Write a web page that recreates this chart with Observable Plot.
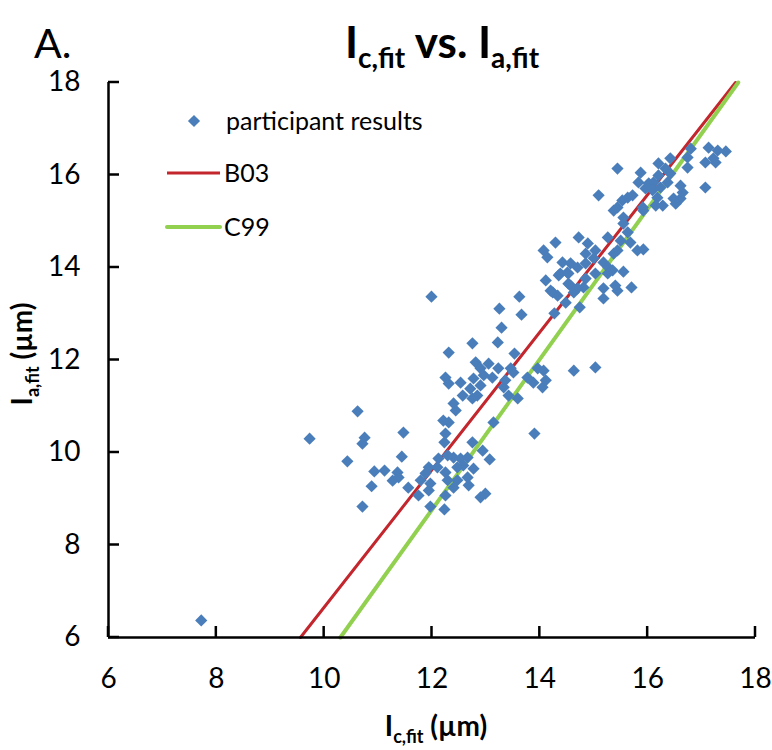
<!DOCTYPE html>
<html>
<head>
<meta charset="utf-8">
<script src="https://cdn.jsdelivr.net/npm/d3@7"></script>
<script src="https://cdn.jsdelivr.net/npm/@observablehq/plot@0.6"></script>
<style>
  html, body { margin: 0; padding: 0; background: #fff; }
  #chart { width: 772px; height: 750px; }
</style>
</head>
<body>
<div id="chart"></div>
<script>
// ---- Data ----
const icFit = [
  7.72, 9.73, 10.62, 10.75, 10.71, 11.47, 10.43, 11.44, 10.93, 11.12, 11.36, 11.38, 11.27, 10.88, 10.71, 11.56,
  12.40, 12.44, 12.21, 12.31, 12.25, 12.23, 12.75, 12.94, 13.07, 13.14, 12.12, 12.29, 12.40, 12.53, 12.66,
  11.94, 11.88, 11.79, 12.10, 12.25, 12.47, 12.58, 12.77, 12.66, 12.47, 12.29, 11.97, 11.94, 11.75, 12.40,
  12.68, 12.25, 11.97, 12.23, 12.90, 12.99,
  11.99, 13.62, 13.25, 13.66, 13.29, 12.75, 13.22, 12.31, 13.53, 12.81, 13.05, 13.23, 12.90, 12.96, 13.12,
  12.77, 12.53, 12.25, 12.31, 12.71, 12.90, 12.84, 12.75, 12.57, 13.36, 13.46, 13.51, 13.33, 13.42, 13.59,
  13.77, 13.96, 14.07, 13.88, 14.11, 14.05, 14.63, 15.03, 13.90,
  14.11, 14.35, 14.53, 14.24, 14.33, 14.57, 14.63, 14.48, 14.27, 14.29, 14.07, 14.14, 14.72, 14.89, 15.26,
  15.55, 15.63, 15.50, 15.68, 15.81, 15.92, 15.44, 15.37, 15.03, 14.85, 14.42, 14.57, 14.70, 14.85, 15.00,
  15.18, 15.27, 15.26, 15.35, 15.03, 14.85, 14.51, 14.38, 14.53, 14.70, 14.81, 14.20, 15.55, 15.40, 15.44,
  15.70, 15.18, 15.18, 14.74,
  17.13, 17.30, 17.45, 17.22, 17.07, 17.26, 17.07, 16.80, 16.74, 16.74, 16.61, 16.65, 16.61, 16.48, 16.52,
  16.42, 16.20, 16.33, 16.42, 16.37, 16.20, 16.11, 16.02, 15.87, 15.83, 15.96, 16.09, 16.24, 16.18, 16.28,
  16.15, 15.44, 15.09, 15.53, 15.63, 15.72, 15.44, 15.37, 15.91, 15.92, 15.55
];
const iaFit = [
  6.37, 10.30, 10.89, 10.32, 10.19, 10.43, 9.81, 9.91, 9.59, 9.61, 9.57, 9.46, 9.39, 9.27, 8.83, 9.24,
  11.06, 10.91, 10.69, 10.65, 10.41, 10.22, 10.22, 10.04, 9.85, 10.65, 9.87, 9.94, 9.89, 9.87, 9.89,
  9.68, 9.55, 9.40, 9.68, 9.57, 9.68, 9.72, 9.65, 9.46, 9.40, 9.40, 9.33, 9.18, 9.07, 9.24,
  9.29, 9.07, 8.83, 8.77, 9.03, 9.11,
  13.37, 13.37, 13.11, 12.98, 12.70, 12.36, 12.38, 12.16, 12.14, 11.95, 11.92, 11.82, 11.82, 11.67, 11.62,
  11.60, 11.51, 11.62, 11.49, 11.38, 11.45, 11.23, 11.17, 11.23, 11.56, 11.82, 11.73, 11.41, 11.23, 11.17,
  11.62, 11.82, 11.77, 11.51, 11.56, 11.41, 11.77, 11.84, 10.41,
  13.72, 13.83, 13.87, 13.46, 13.39, 13.61, 13.46, 13.24, 13.01, 14.54, 14.37, 14.22, 14.65, 14.52, 14.65,
  14.95, 14.76, 14.58, 14.54, 14.37, 14.39, 14.37, 14.30, 14.37, 14.30, 14.11, 14.09, 14.00, 14.09, 14.20,
  14.11, 14.00, 13.87, 13.94, 13.87, 13.76, 13.89, 13.87, 13.65, 13.55, 13.57, 13.50, 13.91, 13.61, 13.50,
  13.57, 13.55, 13.33, 13.14,
  16.59, 16.53, 16.51, 16.36, 16.27, 16.27, 15.73, 16.57, 16.38, 16.16, 15.77, 15.62, 15.49, 15.49, 15.38,
  16.36, 16.25, 16.14, 16.03, 15.84, 15.99, 15.84, 15.82, 16.05, 15.84, 15.71, 15.67, 15.73, 15.51, 15.34,
  15.34, 16.14, 15.56, 15.45, 15.51, 15.56, 15.30, 15.23, 15.30, 15.23, 15.08
];
// Relation lines (end points read where they meet the frame)
const b03X = [9.56, 17.63];
const b03Y = [6, 18];
const c99X = [10.30, 17.68];
const c99Y = [6, 18];
const xTicks = [6, 8, 10, 12, 14, 16, 18];
const yTicks = [6, 8, 10, 12, 14, 16, 18];
const seriesNames = ["participant results", "B03", "C99"];

// ---- Build tables ----
const points = icFit.map((x, i) => ({x, y: iaFit[i]}));
const b03 = b03X.map((x, i) => ({x, y: b03Y[i]}));
const c99 = c99X.map((x, i) => ({x, y: c99Y[i]}));

const BLUE = "#4a7ebb", RED = "#c3262d", GREEN = "#92d050";
const FONT = "Lato, 'Open Sans', sans-serif";
const TICK = 11; // inward tick length in px

const chart = Plot.plot({
  width: 772,
  height: 750,
  marginLeft: 108,
  marginRight: 17,
  marginTop: 82,
  marginBottom: 113,
  style: {fontFamily: FONT, background: "#fff", color: "#000", overflow: "visible"},
  x: {domain: [6, 18]},
  y: {domain: [6, 18]},
  marks: [
    Plot.line(b03, {x: "x", y: "y", stroke: RED, strokeWidth: 3}),
    Plot.line(c99, {x: "x", y: "y", stroke: GREEN, strokeWidth: 4}),
    Plot.dot(points, {x: "x", y: "y", symbol: "diamond2", r: 5.5, fill: BLUE, stroke: null}),
    Plot.ruleX([6], {stroke: "#000", strokeWidth: 2.5}),
    Plot.ruleY([6], {stroke: "#000", strokeWidth: 2.5}),
    Plot.axisX(xTicks, {tickSize: 0, tickPadding: 31, fontSize: 28, label: null, fill: "#000"}),
    Plot.axisY(yTicks, {tickSize: 0, tickPadding: 28, fontSize: 28, label: null, fill: "#000"})
  ]
});
document.getElementById("chart").appendChild(chart);

// ---- Inward tick marks, placed with the plot's own scales ----
const sx = chart.scale("x"), sy = chart.scale("y");
const svg = d3.select(chart);
const y0 = sy.apply(yTicks[0]), x0 = sx.apply(xTicks[0]);
let dPath = "";
xTicks.forEach(v => { const px = sx.apply(v); dPath += `M${px},${y0}V${y0 - TICK}`; });
yTicks.forEach(v => { const py = sy.apply(v); dPath += `M${x0},${py}H${x0 + TICK}`; });
svg.append("path").attr("d", dPath).attr("fill", "none")
  .attr("stroke", "#000").attr("stroke-width", 2.5);

// ---- Texts with subscripts and the legend, added into the same SVG ----
const txt = svg.append("g").attr("font-family", FONT).attr("fill", "#000");

// Panel letter
txt.append("text").attr("x", 34).attr("y", 58).attr("text-anchor", "start").attr("font-size", 41).text("A.");

// Title
const title = txt.append("text").attr("x", 442).attr("y", 58)
  .attr("text-anchor", "middle").attr("font-weight", "bold").attr("font-size", 44);
title.append("tspan").text("I");
title.append("tspan").attr("font-size", 28).attr("dy", 10).text("c,fit");
title.append("tspan").attr("dy", -10).text(" vs. I");
title.append("tspan").attr("font-size", 28).attr("dy", 10).text("a,fit");

// X axis label
const xl = txt.append("text").attr("x", 436).attr("y", 736)
  .attr("text-anchor", "middle").attr("font-weight", "bold").attr("font-size", 28);
xl.append("tspan").text("I");
xl.append("tspan").attr("font-size", 18).attr("dy", 7).text("c,fit");
xl.append("tspan").attr("dy", -7).text(" (\u00b5m)");

// Y axis label
const yl = txt.append("text").attr("transform", "translate(32,354) rotate(-90)")
  .attr("text-anchor", "middle").attr("font-weight", "bold").attr("font-size", 28);
yl.append("tspan").text("I");
yl.append("tspan").attr("font-size", 18).attr("dy", 7).text("a,fit");
yl.append("tspan").attr("dy", -7).text(" (\u00b5m)");

// Legend
const lg = svg.append("g").attr("font-family", FONT).attr("font-size", 25)
  .attr("fill", "#000").attr("text-anchor", "start");
lg.append("path").attr("d", d3.symbol(d3.symbolDiamond2, Math.PI * 5.5 * 5.5)())
  .attr("transform", "translate(194,121)").attr("fill", BLUE);
lg.append("text").attr("x", 226).attr("y", 121).attr("dy", "0.35em").text(seriesNames[0]);
lg.append("line").attr("x1", 167).attr("x2", 220).attr("y1", 173).attr("y2", 173)
  .attr("stroke", RED).attr("stroke-width", 3);
lg.append("text").attr("x", 224).attr("y", 173).attr("dy", "0.35em").text(seriesNames[1]);
lg.append("line").attr("x1", 167).attr("x2", 220).attr("y1", 227).attr("y2", 227)
  .attr("stroke", GREEN).attr("stroke-width", 4).attr("stroke-linecap", "round");
lg.append("text").attr("x", 224).attr("y", 227).attr("dy", "0.35em").text(seriesNames[2]);
</script>
</body>
</html>
